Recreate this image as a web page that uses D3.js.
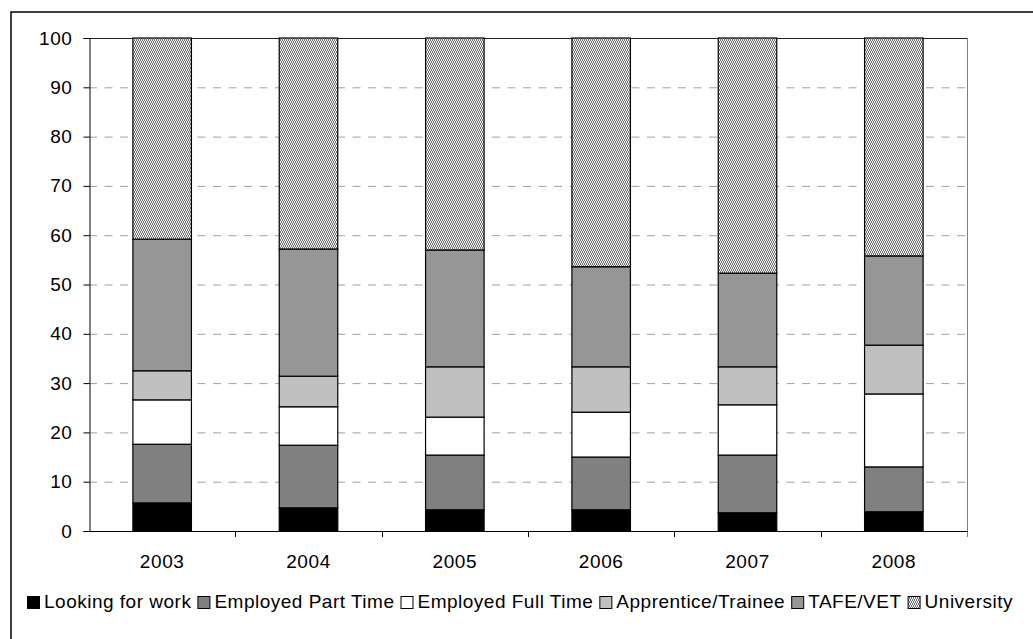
<!DOCTYPE html>
<html>
<head>
<meta charset="utf-8">
<script src="https://cdn.jsdelivr.net/npm/d3@7"></script>
<style>
  body { margin: 0; background: #fff; }
  svg { display: block; font-family: "Liberation Sans", Arial, sans-serif; }
</style>
</head>
<body>
<svg id="chart" width="1033" height="639"></svg>
<script>
// ---- data ----
var years = ["2003", "2004", "2005", "2006", "2007", "2008"]
var seriesNames = ["Looking for work", "Employed Part Time", "Employed Full Time", "Apprentice/Trainee", "TAFE/VET", "University"]
var lookingForWork   = [5.7, 4.7, 4.3, 4.3, 3.7, 3.9]
var employedPartTime = [11.9, 12.7, 11.1, 10.7, 11.7, 9.1]
var employedFullTime = [9.0, 7.8, 7.7, 9.1, 10.2, 14.8]
var apprentice       = [5.9, 6.2, 10.2, 9.2, 7.7, 9.9]
var tafeVet          = [26.7, 25.8, 23.7, 20.3, 19.0, 18.1]
var university       = [40.8, 42.8, 43.0, 46.4, 47.7, 44.2]
var yTicks = [0, 10, 20, 30, 40, 50, 60, 70, 80, 90, 100]

var seriesValues = [lookingForWork, employedPartTime, employedFullTime, apprentice, tafeVet, university]
var fills = ["#000000", "#808080", "#ffffff", "#c0c0c0", "#969696", "url(#uniPattern)"]

// table for d3.stack
var table = years.map(function(y, i) {
  var row = { year: y }
  seriesNames.forEach(function(s, k) { row[s] = seriesValues[k][i] })
  return row
})

var svg = d3.select("#chart")
var plotLeft = 89, plotRight = 967, plotTop = 38, plotBottom = 531

// pattern for University
var defs = svg.append("defs")
var pat = defs.append("pattern")
  .attr("id", "uniPattern")
  .attr("patternUnits", "userSpaceOnUse")
  .attr("width", 4).attr("height", 4)
pat.append("rect").attr("width", 4).attr("height", 4).attr("fill", "#f2f2f2")
var dots = [[0,0],[2,0],[1,1],[3,1],[1,2],[3,2],[0,3],[2,3]]
dots.forEach(function(d) {
  pat.append("rect").attr("x", d[0]).attr("y", d[1]).attr("width", 1).attr("height", 1)
    .attr("fill", "#707070").attr("shape-rendering", "crispEdges")
})

// outer frame
svg.append("rect")
  .attr("x", 11).attr("y", 12).attr("width", 1040).attr("height", 640)
  .attr("fill", "none").attr("stroke", "#000").attr("stroke-width", 1.5)

var xScale = d3.scaleBand()
  .domain(years)
  .range([plotLeft, plotRight])
  .paddingInner(0.6)
  .paddingOuter(0.3)

var yScale = d3.scaleLinear()
  .domain([0, 100])
  .range([plotBottom, plotTop])

// gridlines
svg.append("g")
  .attr("class", "grid")
  .selectAll("line")
  .data(yTicks.filter(function(t) { return t > 0 && t < 100 }))
  .enter().append("line")
  .attr("x1", plotLeft).attr("x2", plotRight)
  .attr("y1", function(d) { return yScale(d) + 0.5 })
  .attr("y2", function(d) { return yScale(d) + 0.5 })
  .attr("stroke", "#a0a0a0")
  .attr("stroke-width", 1)
  .attr("stroke-dasharray", "8,7.5")

// plot area border: top and right
svg.append("line")
  .attr("x1", plotLeft).attr("x2", plotRight)
  .attr("y1", plotTop + 0.5).attr("y2", plotTop + 0.5)
  .attr("stroke", "#222").attr("stroke-width", 1)
svg.append("line")
  .attr("x1", plotRight + 0.5).attr("x2", plotRight + 0.5)
  .attr("y1", plotTop).attr("y2", plotBottom + 6)
  .attr("stroke", "#808080").attr("stroke-width", 1)

// bars
var stack = d3.stack().keys(seriesNames)
var layers = stack(table)

svg.append("g")
  .selectAll("g")
  .data(layers)
  .enter().append("g")
  .attr("fill", function(d, i) { return fills[i] })
  .selectAll("rect")
  .data(function(d) { return d })
  .enter().append("rect")
  .attr("x", function(d) { return xScale(d.data.year) })
  .attr("y", function(d) { return yScale(d[1]) })
  .attr("width", xScale.bandwidth())
  .attr("height", function(d) { return yScale(d[0]) - yScale(d[1]) })
  .attr("stroke", "#000")
  .attr("stroke-width", 1.2)

// y axis
var yAxis = svg.append("g")
  .attr("transform", "translate(" + (plotLeft + 0.5) + ",0)")
  .call(d3.axisLeft(yScale).tickValues(yTicks).tickSize(6).tickPadding(11))
yAxis.select(".domain").attr("stroke", "#000")
yAxis.selectAll(".tick line").attr("stroke", "#000")
yAxis.selectAll("text")
  .attr("font-size", "19px")
  .attr("letter-spacing", "0.6px")
  .attr("fill", "#000")
  .attr("font-family", "Liberation Sans, Arial, sans-serif")

// x axis: ticks at category boundaries
var step = xScale.step()
var boundaries = d3.range(years.length + 1).map(function(i) { return plotLeft + i * step })
var xAxis = svg.append("g")
xAxis.append("line")
  .attr("x1", plotLeft).attr("x2", plotRight + 1)
  .attr("y1", plotBottom + 0.5).attr("y2", plotBottom + 0.5)
  .attr("stroke", "#000")
xAxis.selectAll(".btick")
  .data(boundaries.slice(1, -1))
  .enter().append("line")
  .attr("x1", function(d) { return Math.round(d) + 0.5 })
  .attr("x2", function(d) { return Math.round(d) + 0.5 })
  .attr("y1", plotBottom).attr("y2", plotBottom + 6)
  .attr("stroke", "#000")
xAxis.selectAll(".xlabel")
  .data(years)
  .enter().append("text")
  .attr("x", function(d) { return xScale(d) + xScale.bandwidth() / 2 })
  .attr("y", 568)
  .attr("text-anchor", "middle")
  .attr("font-size", "19px")
  .attr("letter-spacing", "0.6px")
  .attr("fill", "#000")
  .text(function(d) { return d })

// legend: laid out in a row, gaps stretched so it spans 27..1013
var legend = svg.append("g")
var items = seriesNames.map(function(name, i) {
  var sw = legend.append("rect")
    .attr("y", 596.5)
    .attr("width", 12).attr("height", 12)
    .attr("fill", fills[i])
    .attr("stroke", "#000")
    .attr("stroke-width", 1)
  var t = legend.append("text")
    .attr("y", 608)
    .attr("font-size", "19px")
    .attr("letter-spacing", "0.5px")
    .attr("fill", "#000")
    .text(name)
  return { sw: sw, t: t, w: t.node().getComputedTextLength() }
})
var legendStart = 27, legendEnd = 1013
var used = d3.sum(items, function(d) { return 17 + d.w })
var gap = (legendEnd - legendStart - used) / (items.length - 1)
var lx = legendStart
items.forEach(function(d) {
  d.sw.attr("x", lx + 0.5)
  d.t.attr("x", lx + 17)
  lx = lx + 17 + d.w + gap
})
</script>
</body>
</html>
